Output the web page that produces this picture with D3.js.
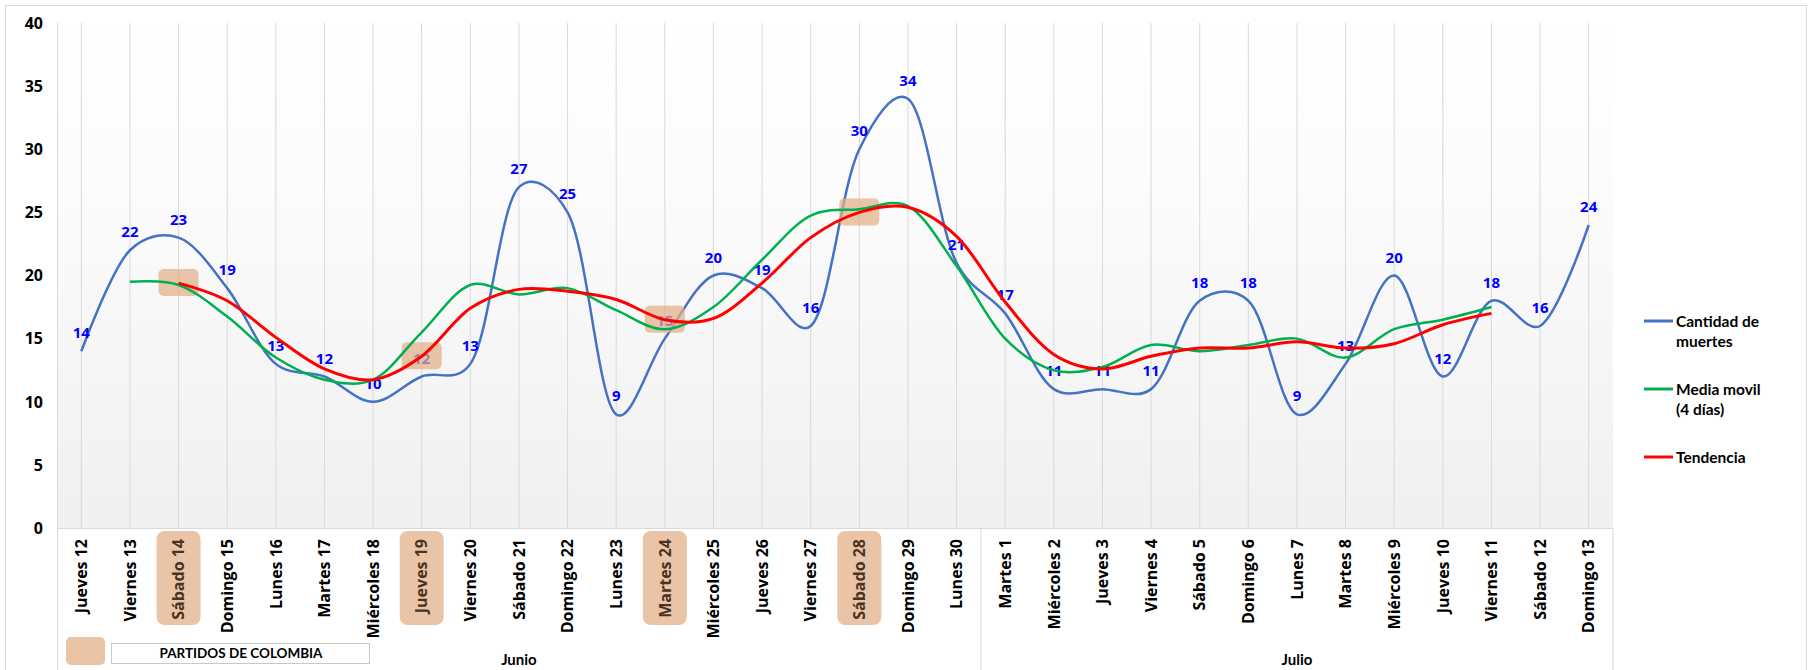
<!DOCTYPE html>
<html>
<head>
<meta charset="utf-8">
<script src="https://cdn.jsdelivr.net/npm/d3@7"></script>
<style>
  body { margin: 0; background: #fff; }
  svg { display: block; }
</style>
</head>
<body>
<div id="chart"></div>
<script>
// datos
const dias = ["Jueves 12", "Viernes 13", "Sábado 14", "Domingo 15", "Lunes 16", "Martes 17", "Miércoles 18",
  "Jueves 19", "Viernes 20", "Sábado 21", "Domingo 22", "Lunes 23", "Martes 24", "Miércoles 25", "Jueves 26",
  "Viernes 27", "Sábado 28", "Domingo 29", "Lunes 30", "Martes 1", "Miércoles 2", "Jueves 3", "Viernes 4",
  "Sábado 5", "Domingo 6", "Lunes 7", "Martes 8", "Miércoles 9", "Jueves 10", "Viernes 11", "Sábado 12", "Domingo 13"]
const muertes = [14, 22, 23, 19, 13, 12, 10, 12, 13, 27, 25, 9, 15, 20, 19, 16, 30, 34, 21, 17, 11, 11, 11, 18, 18, 9, 13, 20, 12, 18, 16, 24]
const mediaMovil = [null, 19.5, 19.25, 16.75, 13.5, 11.75, 11.75, 15.5, 19.25, 18.5, 19, 17.25, 15.75, 17.5, 21.25,
  24.75, 25.25, 25.5, 20.75, 15, 12.5, 12.75, 14.5, 14, 14.5, 15, 13.5, 15.75, 16.5, 17.5, null, null]
const tendencia = [null, null, 19.4, 18, 15.1, 12.6, 11.75, 13.6, 17.4, 18.9, 18.75, 18.1, 16.5, 16.6, 19.4,
  23, 25, 25.4, 23.1, 17.9, 13.75, 12.6, 13.6, 14.25, 14.25, 14.75, 14.25, 14.6, 16.1, 17, null, null]
const partidos = ["Sábado 14", "Jueves 19", "Martes 24", "Sábado 28"]
const meses = ["Junio", "Julio"]
const diasPorMes = [19, 13]
const yTicks = [0, 5, 10, 15, 20, 25, 30, 35, 40]
const series = [
  {name: ["Cantidad de", "muertes"], values: muertes, color: "#4472C4", width: 2.5},
  {name: ["Media movil", "(4 días)"], values: mediaMovil, color: "#00B050", width: 2.5},
  {name: ["Tendencia"], values: tendencia, color: "#FF0000", width: 3},
]

const W = 1814, H = 670
const plot = {left: 57, right: 1613, top: 23, bottom: 528}
const peach = "#E2AE86"
const numFont = "'Open Sans', sans-serif"
const txtFont = "Lato, sans-serif"

const svg = d3.select("#chart").append("svg").attr("width", W).attr("height", H)

const x = d3.scaleBand().domain(dias).range([plot.left, plot.right])
const cx = d => x(d) + x.bandwidth() / 2
const y = d3.scaleLinear().domain([0, 40]).range([plot.bottom, plot.top])

// outer frame
svg.append("rect")
  .attr("x", 5.5).attr("y", 5.5).attr("width", 1801).attr("height", 700)
  .attr("fill", "#fff").attr("stroke", "#d9d9d9")

// plot background gradient
const grad = svg.append("defs").append("linearGradient")
  .attr("id", "bg").attr("x1", 0).attr("y1", 0).attr("x2", 0).attr("y2", 1)
grad.selectAll("stop")
  .data([{o: "0%", c: "#ffffff"}, {o: "30%", c: "#fcfcfc"}, {o: "100%", c: "#f0f0f0"}])
  .enter().append("stop")
  .attr("offset", d => d.o).attr("stop-color", d => d.c)
svg.append("rect")
  .attr("x", plot.left).attr("y", plot.top)
  .attr("width", plot.right - plot.left).attr("height", plot.bottom - plot.top)
  .attr("fill", "url(#bg)")

// vertical gridlines
svg.append("g").selectAll("line").data(dias).enter().append("line")
  .attr("x1", cx).attr("x2", cx).attr("y1", plot.top).attr("y2", plot.bottom)
  .attr("stroke", "#d9d9d9").attr("stroke-width", 1)

// axis lines
svg.append("line")
  .attr("x1", plot.left + 0.5).attr("x2", plot.left + 0.5).attr("y1", plot.top).attr("y2", H)
  .attr("stroke", "#d9d9d9")
svg.append("line")
  .attr("x1", plot.left).attr("x2", plot.right).attr("y1", plot.bottom + 0.5).attr("y2", plot.bottom + 0.5)
  .attr("stroke", "#d9d9d9")

// y tick labels
svg.append("g").selectAll("text").data(yTicks).enter().append("text")
  .attr("x", 43).attr("y", d => y(d)).attr("dy", "0.36em")
  .attr("text-anchor", "end")
  .style("font", `bold 16px ${numFont}`).attr("fill", "#000")
  .text(d => d)

// highlight boxes behind match days on the axis
svg.append("g").selectAll("rect").data(partidos).enter().append("rect")
  .attr("x", d => cx(d) - 22).attr("y", 531).attr("width", 44).attr("height", 94)
  .attr("rx", 8).attr("fill", "#EAC4A6")

// category labels
svg.append("g").selectAll("text").data(dias).enter().append("text")
  .attr("transform", d => `translate(${cx(d)},539) rotate(-90)`)
  .attr("dy", "0.36em").attr("text-anchor", "end")
  .style("font", `bold 16px ${numFont}`)
  .attr("fill", d => partidos.includes(d) ? "#4a3322" : "#000")
  .text(d => d)

// month groups
let start = 0
const grupos = meses.map((m, i) => {
  const g = {name: m, first: dias[start], last: dias[start + diasPorMes[i] - 1]}
  start += diasPorMes[i]
  return g
})
svg.append("g").selectAll("line").data(grupos).enter().append("line")
  .attr("x1", d => x(d.last) + x.bandwidth()).attr("x2", d => x(d.last) + x.bandwidth())
  .attr("y1", plot.bottom).attr("y2", H)
  .attr("stroke", "#d9d9d9")
svg.append("g").selectAll("text").data(grupos).enter().append("text")
  .attr("x", d => (x(d.first) + x(d.last) + x.bandwidth()) / 2).attr("y", 665)
  .attr("text-anchor", "middle")
  .style("font", `bold 15px ${txtFont}`)
  .text(d => d.name)

// partidos legend
svg.append("rect")
  .attr("x", 66).attr("y", 637).attr("width", 39).attr("height", 28).attr("rx", 5)
  .attr("fill", "#EAC4A6")
svg.append("rect")
  .attr("x", 111.5).attr("y", 643.5).attr("width", 258).attr("height", 20)
  .attr("fill", "#fff").attr("stroke", "#c8c8c8")
svg.append("text")
  .attr("x", 241).attr("y", 658).attr("text-anchor", "middle")
  .style("font", `bold 13.5px ${txtFont}`)
  .text("PARTIDOS DE COLOMBIA")

const line = d3.line()
  .defined(d => d.v != null)
  .x(d => cx(d.dia)).y(d => y(d.v))
  .curve(d3.curveCatmullRom.alpha(0.25))
const pts = vals => dias.map((dia, i) => ({dia, v: vals[i]}))

// cantidad de muertes
svg.append("path")
  .attr("d", line(pts(series[0].values)))
  .attr("fill", "none").attr("stroke", series[0].color).attr("stroke-width", series[0].width)

// data labels
svg.append("g").selectAll("text").data(pts(muertes)).enter().append("text")
  .attr("x", d => cx(d.dia)).attr("y", d => y(d.v) - 13)
  .attr("text-anchor", "middle")
  .style("font", `bold 15px ${numFont}`).attr("fill", "#0000FF")
  .text(d => d.v)

// match markers on the trend
svg.append("g").selectAll("rect").data(partidos).enter().append("rect")
  .attr("x", d => cx(d) - 20).attr("y", d => y(tendencia[dias.indexOf(d)]) - 14)
  .attr("width", 40).attr("height", 27).attr("rx", 5)
  .attr("fill", peach).attr("opacity", 0.72)

series.slice(1).forEach(s => {
  svg.append("path")
    .attr("d", line(pts(s.values)))
    .attr("fill", "none").attr("stroke", s.color).attr("stroke-width", s.width)
})

// legend
const legendY = [321, 389, 457]
const leg = svg.append("g").selectAll("g").data(series).enter().append("g")
  .attr("transform", (d, i) => `translate(1644,${legendY[i]})`)
leg.append("line")
  .attr("x1", 0).attr("x2", 29).attr("y1", 0).attr("y2", 0)
  .attr("stroke", d => d.color).attr("stroke-width", 3)
leg.append("text")
  .attr("x", 32).attr("y", 6)
  .style("font", `bold 15.5px ${txtFont}`)
  .selectAll("tspan").data(d => d.name).enter().append("tspan")
  .attr("x", 32).attr("dy", (d, i) => i ? 20 : 0)
  .text(d => d)
</script>
</body>
</html>
